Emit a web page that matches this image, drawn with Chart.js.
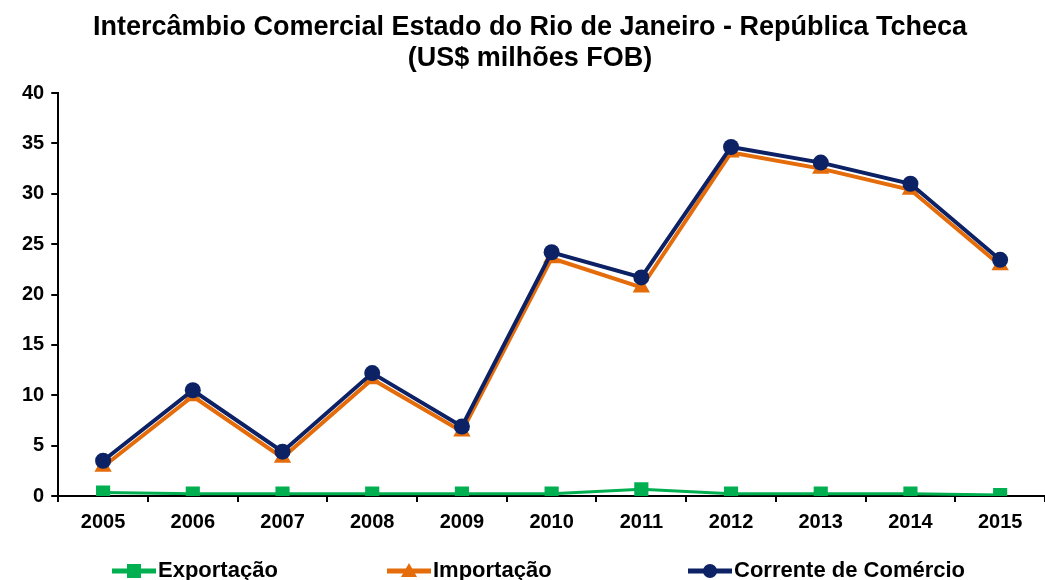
<!DOCTYPE html>
<html>
<head>
<meta charset="utf-8">
<script src="https://cdn.jsdelivr.net/npm/chart.js@4/dist/chart.umd.min.js"></script>
<style>
    html, body { margin: 0; padding: 0; background: #fff; overflow: hidden; }
    #wrap { width: 1045px; height: 580px; position: relative; }
</style>
</head>
<body>
<div id="wrap"><canvas id="myChart"></canvas></div>
<script>
// chart values
const years = ['2005', '2006', '2007', '2008', '2009', '2010', '2011', '2012', '2013', '2014', '2015'];
const exportacao = [0.35, 0.23, 0.23, 0.23, 0.23, 0.23, 0.67, 0.23, 0.23, 0.23, 0.1];
const importacao = [2.9, 9.9, 3.8, 11.6, 6.4, 23.6, 20.7, 34.1, 32.5, 30.4, 22.9];
const corrente = [3.5, 10.5, 4.4, 12.2, 6.9, 24.2, 21.7, 34.65, 33.1, 31.0, 23.45];
const yTicks = [0, 5, 10, 15, 20, 25, 30, 35, 40];

const FONT = "'Liberation Sans', Arial, sans-serif";
const GREEN = '#00B050';
const ORANGE = '#E46C0A';
const NAVY = '#0C2264';

// little line + marker pictures for the legend
function legendIcon(color, shape) {
    const c = document.createElement('canvas');
    c.width = 44;
    c.height = 18;
    const g = c.getContext('2d');
    g.strokeStyle = color;
    g.fillStyle = color;
    g.lineWidth = 5;
    g.beginPath();
    g.moveTo(0, 9);
    g.lineTo(44, 9);
    g.stroke();
    g.beginPath();
    if (shape === 'rect') {
        g.rect(15, 2, 14, 14);
    } else if (shape === 'triangle') {
        g.moveTo(22, 1);
        g.lineTo(30, 15);
        g.lineTo(14, 15);
        g.closePath();
    } else {
        g.arc(22, 9, 7, 0, Math.PI * 2);
    }
    g.fill();
    return c;
}

const icons = [legendIcon(GREEN, 'rect'), legendIcon(ORANGE, 'triangle'), legendIcon(NAVY, 'circle')];

// legend row at the bottom, spaced like the original
const legendRow = {
    id: 'legendRow',
    afterDraw(chart) {
        const c = chart.ctx;
        const starts = [112, 387, 688];
        const y = 571;
        c.save();
        c.font = 'bold 22px ' + FONT;
        c.textBaseline = 'middle';
        c.fillStyle = '#000';
        chart.data.datasets.forEach((ds, i) => {
            c.drawImage(icons[i], starts[i], y - 9);
            c.fillText(ds.label, starts[i] + 46, y);
        });
        c.restore();
    }
};

const ctx = document.getElementById('myChart');
const myChart = new Chart(ctx, {
    type: 'line',
    data: {
        labels: years,
        datasets: [
            {
                label: 'Exportação',
                data: exportacao,
                borderColor: GREEN,
                backgroundColor: GREEN,
                borderWidth: 3,
                pointStyle: 'rect',
                pointRadius: 10,
                pointBorderWidth: 0,
                order: 2
            },
            {
                label: 'Importação',
                data: importacao,
                borderColor: ORANGE,
                backgroundColor: ORANGE,
                borderWidth: 4,
                pointStyle: 'triangle',
                pointRadius: 10,
                pointBorderWidth: 0,
                order: 1
            },
            {
                label: 'Corrente de Comércio',
                data: corrente,
                borderColor: NAVY,
                backgroundColor: NAVY,
                borderWidth: 4,
                pointStyle: 'circle',
                pointRadius: 8,
                pointBorderWidth: 0,
                order: 0
            }
        ]
    },
    plugins: [legendRow],
    options: {
        responsive: true,
        maintainAspectRatio: false,
        animation: false,
        layout: {
            autoPadding: false,
            padding: { left: 15, right: 0, top: 0, bottom: 38 }
        },
        scales: {
            x: {
                offset: true,
                grid: {
                    offset: true,
                    drawOnChartArea: false,
                    color: '#000',
                    lineWidth: 2,
                    tickLength: 6
                },
                border: { color: '#000', width: 2 },
                ticks: {
                    color: '#000',
                    padding: 8,
                    font: { family: FONT, size: 20, weight: 'bold' }
                }
            },
            y: {
                min: 0,
                max: 40,
                afterBuildTicks: axis => {
                    axis.ticks = yTicks.map(v => ({ value: v }));
                },
                grid: {
                    drawOnChartArea: false,
                    color: '#000',
                    lineWidth: 2,
                    tickLength: 7
                },
                border: { color: '#000', width: 2 },
                ticks: {
                    color: '#000',
                    padding: 7,
                    font: { family: FONT, size: 20, weight: 'bold' }
                }
            }
        },
        plugins: {
            title: {
                display: true,
                text: ['Intercâmbio Comercial Estado do Rio de Janeiro - República Tcheca', '(US$ milhões FOB)'],
                color: '#000',
                font: { family: FONT, size: 27, weight: 'bold', lineHeight: 1.15 },
                padding: { top: 12, bottom: 19 }
            },
            legend: { display: false },
            tooltip: { enabled: false }
        }
    }
});
</script>
</body>
</html>
